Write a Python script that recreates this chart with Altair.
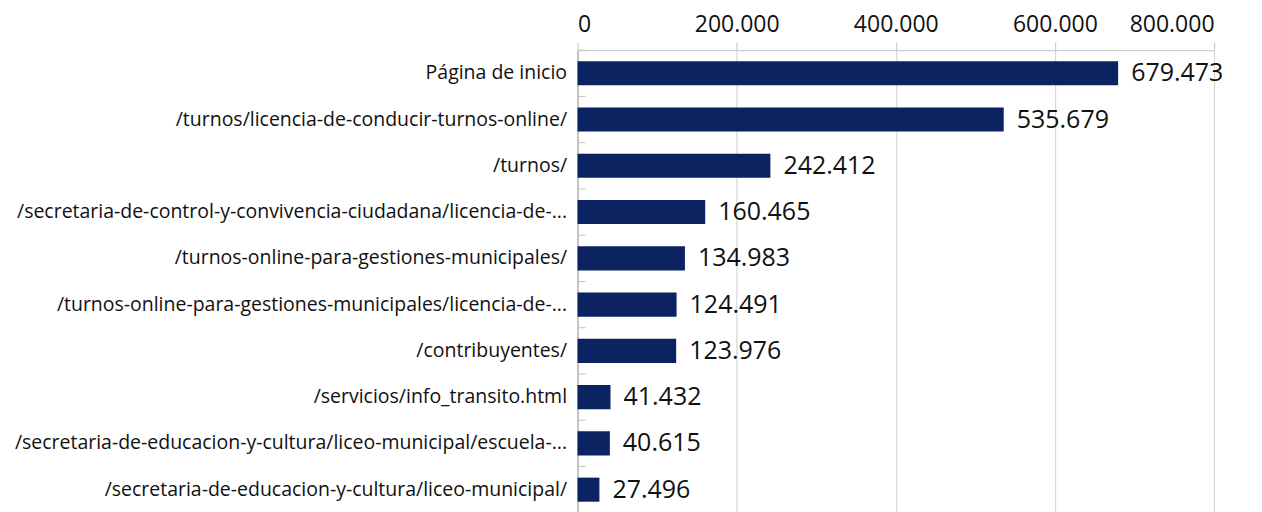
import altair as alt
import pandas as pd

pages = [
    "Página de inicio",
    "/turnos/licencia-de-conducir-turnos-online/",
    "/turnos/",
    "/secretaria-de-control-y-convivencia-ciudadana/licencia-de-...",
    "/turnos-online-para-gestiones-municipales/",
    "/turnos-online-para-gestiones-municipales/licencia-de-...",
    "/contribuyentes/",
    "/servicios/info_transito.html",
    "/secretaria-de-educacion-y-cultura/liceo-municipal/escuela-...",
    "/secretaria-de-educacion-y-cultura/liceo-municipal/",
]
views = [679473, 535679, 242412, 160465, 134983, 124491, 123976, 41432, 40615, 27496]
x_ticks = [0, 200000, 400000, 600000, 800000]

df = pd.DataFrame({"page": pages, "views": views})
df["label"] = df["views"].map(lambda v: f"{v:,}".replace(",", "."))

FONT = "Open Sans"
GRAY = "#c4c4c4"

yscale = alt.Scale(paddingInner=0, paddingOuter=0)

bars = alt.Chart(df).mark_bar(color="#0c2361", height={"band": 0.52}).encode(
    y=alt.Y(
        "page:N",
        sort=pages,
        title=None,
        scale=yscale,
        axis=alt.Axis(
            labelFont=FONT,
            labelFontSize=19.5,
            labelColor="#111111",
            labelLimit=2000,
            labelPadding=11,
            ticks=False,
            domainColor=GRAY,
            domainWidth=2,
            grid=False,
        ),
    ),
    x=alt.X(
        "views:Q",
        title=None,
        scale=alt.Scale(domain=[0, 800000], nice=False),
        axis=alt.Axis(
            orient="top",
            values=x_ticks,
            labelExpr="replace(format(datum.value, ','), /,/g, '.')",
            labelFont=FONT,
            labelFontSize=23,
            labelColor="#111111",
            labelPadding=6,
            tickSize=8,
            tickColor=GRAY,
            domainColor=GRAY,
            grid=True,
            gridColor="#d0d0d0",
            gridWidth=1,
        ),
    ),
)

ticks = alt.Chart(df).mark_rule(color=GRAY, strokeWidth=1).encode(
    y=alt.Y("page:N", sort=pages, bandPosition=0, scale=yscale),
    x=alt.value(1),
    x2=alt.value(8),
)

text = alt.Chart(df).mark_text(
    align="left", baseline="middle", dx=13, fontSize=25, font=FONT, color="#111111"
).encode(
    y=alt.Y("page:N", sort=pages, scale=yscale),
    x="views:Q",
    text="label:N",
)

chart = (
    (bars + ticks + text)
    .properties(
        width=637,
        height=463,
        autosize=alt.AutoSizeParams(type="none"),
        padding={"left": 570, "top": 42, "right": 40, "bottom": 0},
    )
    .configure_view(stroke=None)
)

chart.save("out.html", embed_options={"renderer": "svg", "actions": False})
